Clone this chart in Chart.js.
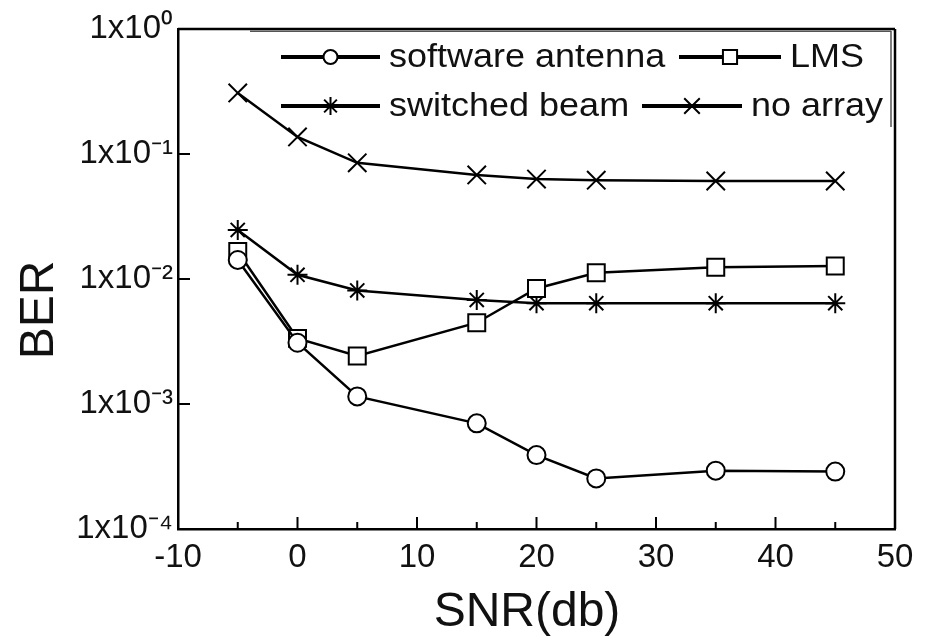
<!DOCTYPE html>
<html><head><meta charset="utf-8">
<script src="https://cdn.jsdelivr.net/npm/chart.js@4/dist/chart.umd.min.js"></script>
<style>html,body{margin:0;padding:0;background:#fff;overflow:hidden}#wrap{width:930px;height:637px;position:relative}</style>
</head><body><div id="wrap"><canvas id="c" width="930" height="637"></canvas></div>
<script>
// ---- data ----
const snr = [-5, 0, 5, 15, 20, 25, 35, 45];
const softwareAntenna = [0.0142, 0.00309, 0.00115, 0.00070, 0.00039, 0.000254, 0.000293, 0.000288];
const lms = [0.0166, 0.00335, 0.00242, 0.00447, 0.0084, 0.0112, 0.0124, 0.0127];
const switchedBeam = [0.0247, 0.0108, 0.0081, 0.0068, 0.0064, 0.0064, 0.0064, 0.0064];
const noArray = [0.308, 0.137, 0.085, 0.068, 0.063, 0.0617, 0.0608, 0.0608];
const seriesNames = ['software antenna', 'LMS', 'switched beam', 'no array'];
const yTickValues = [1e-4, 1e-3, 1e-2, 1e-1, 1];
const yTickLabels = ['1x10\u207B\u2074', '1x10\u207B\u00B3', '1x10\u207B\u00B2', '1x10\u207B\u00B9', '1x10\u2070'];
const xTitle = 'SNR(db)';
const yTitle = 'BER';

const FONT = "'Liberation Sans', Arial, Helvetica, sans-serif";
const toXY = (ys) => snr.map((x, i) => ({x: x, y: ys[i]}));

const styles = [
  {pointStyle: 'circle', radius: 9, legendRadius: 7},
  {pointStyle: 'rect', radius: 12, legendRadius: 10},
  {pointStyle: 'star', radius: 10, legendRadius: 9},
  {pointStyle: 'crossRot', radius: 13, legendRadius: 11}
];
const seriesData = [softwareAntenna, lms, switchedBeam, noArray];

const datasets = seriesData.map((d, i) => ({
  label: seriesNames[i],
  data: toXY(d),
  borderColor: '#000',
  borderWidth: 2.5,
  backgroundColor: '#fff',
  pointStyle: styles[i].pointStyle,
  pointRadius: styles[i].radius,
  pointBorderWidth: 2,
  pointBorderColor: '#000',
  pointBackgroundColor: '#fff',
  tension: 0,
  fill: false
}));

const decor = {
  id: 'decor',
  afterDraw(chart) {
    const ctx = chart.ctx;
    const a = chart.chartArea;
    const xs = chart.scales.x, ys = chart.scales.y;
    ctx.save();
    ctx.strokeStyle = '#000';
    ctx.lineWidth = 2.5;
    ctx.lineCap = 'butt';
    // top and right frame
    ctx.beginPath();
    ctx.moveTo(a.left, a.top); ctx.lineTo(a.right, a.top);
    ctx.moveTo(a.right, a.top); ctx.lineTo(a.right, a.bottom);
    ctx.stroke();
    // inward ticks x
    ctx.lineWidth = 2;
    ctx.beginPath();
    for (let v = -5; v < 50; v += 5) {
      const px = xs.getPixelForValue(v);
      const len = (v % 10 === 0) ? 12 : 7;
      ctx.moveTo(px, a.bottom); ctx.lineTo(px, a.bottom - len);
    }
    // inward ticks y
    yTickValues.forEach(v => {
      if (v <= 1e-4 || v >= 1) return;
      const py = ys.getPixelForValue(v);
      ctx.moveTo(a.left, py); ctx.lineTo(a.left + 12, py);
    });
    ctx.stroke();

    // legend frame (right edge, thin top line just below frame)
    ctx.lineWidth = 1.5;
    ctx.strokeStyle = '#555';
    ctx.beginPath();
    ctx.moveTo(a.left + 72, a.top + 2.2); ctx.lineTo(a.right - 4, a.top + 2.2);
    ctx.moveTo(a.right - 4, a.top + 2); ctx.lineTo(a.right - 4, a.top + 98);
    ctx.stroke();

    // legend items
    const items = [
      {i: 0, x1: 281, x2: 380, tx: 389, y: 57},
      {i: 1, x1: 679, x2: 781, tx: 790, y: 57},
      {i: 2, x1: 281, x2: 380, tx: 389, y: 106},
      {i: 3, x1: 642, x2: 742, tx: 751, y: 106}
    ];
    items.forEach(it => {
      ctx.strokeStyle = '#000';
      ctx.lineWidth = 4;
      ctx.beginPath();
      ctx.moveTo(it.x1, it.y); ctx.lineTo(it.x2, it.y);
      ctx.stroke();
      ctx.fillStyle = '#fff';
      ctx.strokeStyle = '#000';
      ctx.lineWidth = 2;
      Chart.helpers.drawPoint(ctx, {pointStyle: styles[it.i].pointStyle, radius: styles[it.i].legendRadius, rotation: 0, borderWidth: 2}, (it.x1 + it.x2) / 2, it.y);
      ctx.save();
      ctx.translate(it.tx, it.y);
      ctx.scale(1, 0.9);
      ctx.fillStyle = '#111';
      ctx.font = '36px ' + FONT;
      ctx.textAlign = 'left';
      ctx.textBaseline = 'middle';
      ctx.fillText(seriesNames[it.i], 0, 1);
      ctx.restore();
    });

    // axis titles
    ctx.fillStyle = '#111';
    ctx.font = '48px ' + FONT;
    ctx.textAlign = 'center';
    ctx.textBaseline = 'alphabetic';
    ctx.fillText(xTitle, 527, 626);
    ctx.save();
    ctx.translate(53, 310);
    ctx.rotate(-Math.PI / 2);
    ctx.fillText(yTitle, 0, 0);
    ctx.restore();
    ctx.restore();
  }
};

new Chart(document.getElementById('c'), {
  type: 'line',
  data: {datasets: datasets},
  options: {
    responsive: false,
    animation: false,
    devicePixelRatio: 1,
    layout: {padding: {top: 29, right: 35, left: 0, bottom: 0}},
    plugins: {legend: {display: false}, tooltip: {enabled: false}, title: {display: false}},
    scales: {
      x: {
        type: 'linear', min: -10, max: 50,
        ticks: {stepSize: 10, color: '#111', font: {family: FONT, size: 33}, padding: 9, maxRotation: 0},
        grid: {display: false, drawTicks: false},
        border: {display: true, color: '#000', width: 2.5},
        afterFit(s) { s.height = 108; }
      },
      y: {
        type: 'logarithmic', min: 1e-4, max: 1,
        afterBuildTicks(s) { s.ticks = yTickValues.map(v => ({value: v, major: true})); },
        ticks: {
          color: '#111', font: {family: FONT, size: 33}, padding: 5,
          callback: (v) => { const k = yTickValues.findIndex(t => Math.abs(Math.log10(t) - Math.log10(v)) < 1e-6); return k >= 0 ? yTickLabels[k] : ''; }
        },
        grid: {display: false, drawTicks: false},
        border: {display: true, color: '#000', width: 2.5},
        afterFit(s) { s.width = 178; }
      }
    }
  },
  plugins: [decor]
});
</script>
</body></html>
